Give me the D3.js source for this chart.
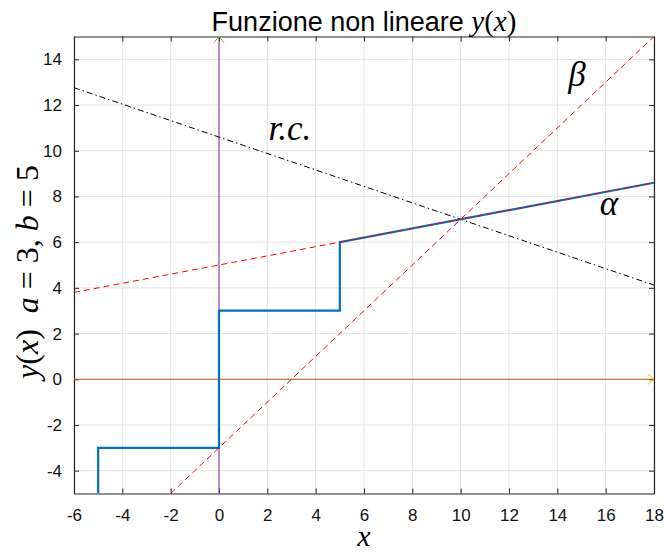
<!DOCTYPE html>
<html>
<head>
<meta charset="utf-8">
<script src="https://cdn.jsdelivr.net/npm/d3@7"></script>
<style>
  html,body{margin:0;padding:0;background:#fff;}
  svg{display:block;}
  .math{font-family:"Liberation Serif","DejaVu Serif","Times New Roman",serif;}
  .sans{font-family:"Liberation Sans",Arial,Helvetica,sans-serif;}
  .tick text{font-family:"Liberation Sans",Arial,sans-serif;font-size:17px;fill:#111;}
</style>
</head>
<body>
<svg id="chart"></svg>
<script>
// ---------- DATA ---------------------------------------------------------
const xTicks = [-6,-4,-2,0,2,4,6,8,10,12,14,16,18];
const yTicks = [-4,-2,0,2,4,6,8,10,12,14];

// blue step function y(x), a = 3, b = 5
const stepX = [-5, -5, 0, 0, 5, 5, 18];
const stepY = [-5, -3, -3, 3, 3, 6, 8.6];

// alpha line (red dashed)
const alphaX = [-6, 18];
const alphaY = [3.8, 8.6];

// beta line (red dashed)
const betaX = [-2, 18];
const betaY = [-5, 15];

// r.c. line (black dash-dot)
const rcX = [-6, 18];
const rcY = [12.76, 4.12];

// axes arrows
const axisXArrow = {x:[-6, 18], y:[0, 0]};
const axisYArrow = {x:[0, 0], y:[-5, 15]};

// text labels (data coords)
const labels = [
  {t:'r.c.', x:2.05, y:10.45},
  {t:'β',    x:14.45, y:12.85},
  {t:'α',    x:15.75, y:7.2}
];

// ---------- LAYOUT -------------------------------------------------------
const W = 664, H = 554,
      M = {top:36.5, right:10, bottom:60.5, left:74},
      IW = W-M.left-M.right,
      IH = H-M.top-M.bottom;
const AX = '#262626', GRID = '#e2e2e2';

const svg = d3.select('#chart').attr('width',W).attr('height',H);
const g = svg.append('g').attr('transform',`translate(${M.left},${M.top})`);

const x = d3.scaleLinear().domain([-6,18]).range([0,IW]);
const y = d3.scaleLinear().domain([-5,15]).range([IH,0]);

svg.append('defs').append('clipPath').attr('id','clip')
  .append('rect').attr('width',IW).attr('height',IH);

// grid
g.append('g').selectAll('line').data(xTicks).join('line')
  .attr('x1',d=>x(d)).attr('x2',d=>x(d)).attr('y1',0).attr('y2',IH)
  .attr('stroke',GRID).attr('stroke-width',1);
g.append('g').selectAll('line').data(yTicks).join('line')
  .attr('y1',d=>y(d)).attr('y2',d=>y(d)).attr('x1',0).attr('x2',IW)
  .attr('stroke',GRID).attr('stroke-width',1);

// axes (ticks inside, box on all sides)
const fmt = d => String(d);   // plain hyphen minus like the reference
function styleAxis(sel){
  sel.attr('font-family',null).attr('font-size',null);
  sel.select('.domain').attr('stroke',AX).attr('stroke-width',1.2);
  sel.selectAll('.tick line').attr('stroke',AX);
  sel.selectAll('.tick text').attr('fill','#111');
}
g.append('g').attr('transform',`translate(0,${IH})`)
  .call(d3.axisBottom(x).tickValues(xTicks).tickFormat(fmt).tickSizeInner(-5).tickSizeOuter(0).tickPadding(15))
  .call(styleAxis);
g.append('g')
  .call(d3.axisTop(x).tickValues(xTicks).tickSizeInner(-5).tickSizeOuter(0).tickFormat(''))
  .call(styleAxis);
g.append('g')
  .call(d3.axisLeft(y).tickValues(yTicks).tickFormat(fmt).tickSizeInner(-5).tickSizeOuter(0).tickPadding(12))
  .call(styleAxis);
g.append('g').attr('transform',`translate(${IW},0)`)
  .call(d3.axisRight(y).tickValues(yTicks).tickSizeInner(-5).tickSizeOuter(0).tickFormat(''))
  .call(styleAxis);

// ---------- LINES --------------------------------------------------------
const plot = g.append('g').attr('clip-path','url(#clip)');
const line = d3.line().x(d=>x(d[0])).y(d=>y(d[1]));
const zip = (a,b)=>a.map((v,i)=>[v,b[i]]);

// axis arrows: line + chevron head
plot.append('path').datum(zip(axisXArrow.x,axisXArrow.y)).attr('d',line)
  .attr('fill','none').attr('stroke','#D95319').attr('stroke-width',1);
plot.append('path').datum(zip(axisYArrow.x,axisYArrow.y)).attr('d',line)
  .attr('fill','none').attr('stroke','#7E2F8E').attr('stroke-width',1);

plot.append('path').datum(zip(rcX,rcY)).attr('d',line)
  .attr('fill','none').attr('stroke','#000').attr('stroke-width',1)
  .attr('stroke-dasharray','6,3,1.5,3');

plot.append('path').datum(zip(stepX,stepY)).attr('d',line)
  .attr('fill','none').attr('stroke','#0072BD').attr('stroke-width',2.2);

plot.append('path').datum(zip(alphaX,alphaY)).attr('d',line)
  .attr('fill','none').attr('stroke','#FF0000').attr('stroke-width',1)
  .attr('stroke-dasharray','6,4');
plot.append('path').datum(zip(betaX,betaY)).attr('d',line)
  .attr('fill','none').attr('stroke','#FF0000').attr('stroke-width',1)
  .attr('stroke-dasharray','6,4');

// arrow heads
const hx = x(axisXArrow.x[1]), hy = y(axisXArrow.y[1]);
g.append('path').attr('d',`M${hx-6},${hy-5}L${hx},${hy}L${hx-6},${hy+5}`)
  .attr('fill','none').attr('stroke','#EDB120').attr('stroke-width',1);
const vx = x(axisYArrow.x[1]), vy = y(axisYArrow.y[1]);
g.append('path').attr('d',`M${vx-5},${vy+6}L${vx},${vy}L${vx+5},${vy+6}`)
  .attr('fill','none').attr('stroke','#77AC30').attr('stroke-width',1);

// labels
g.append('g').selectAll('text').data(labels).join('text')
  .attr('class','math')
  .attr('x',d=>x(d.x)).attr('y',d=>y(d.y))
  .style('font-style','italic').style('font-size','35px')
  .text(d=>d.t);

// ---------- TITLES -------------------------------------------------------
const title = svg.append('text').attr('x',M.left+IW/2).attr('y',31)
  .attr('text-anchor','middle').style('font-size','27px').attr('fill','#000');
title.append('tspan').attr('class','sans').text('Funzione non lineare ');
title.append('tspan').attr('class','math').style('font-style','italic').style('font-size','29px').text('y');
title.append('tspan').attr('class','math').style('font-size','29px').text('(');
title.append('tspan').attr('class','math').style('font-style','italic').style('font-size','29px').text('x');
title.append('tspan').attr('class','math').style('font-size','29px').text(')');

svg.append('text').attr('class','math').attr('x',M.left+IW/2).attr('y',546)
  .attr('text-anchor','middle').style('font-style','italic')
  .style('font-size','30px').text('x');

const yl = svg.append('text').attr('class','math')
  .attr('transform',`translate(38,${M.top+IH/2 + 7}) rotate(-90)`)
  .attr('text-anchor','middle').style('font-size','32px');
[['y',1],['(',0],['x',1],[')\u2002',0],['a',1],[' = 3, ',0],['b',1],[' = 5',0]]
  .forEach(([t,it])=>yl.append('tspan').style('font-style',it?'italic':'normal').text(t));
</script>
</body>
</html>
